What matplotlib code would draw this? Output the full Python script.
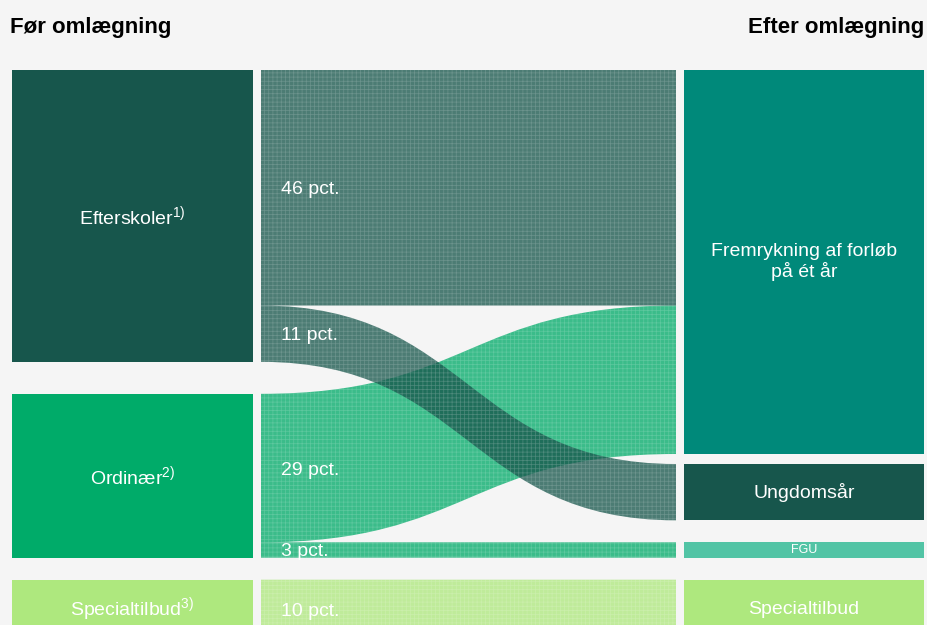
import matplotlib.pyplot as plt
from matplotlib.path import Path
from matplotlib.patches import PathPatch, Rectangle

plt.rcParams['font.family'] = ['Liberation Sans', 'DejaVu Sans']
plt.rcParams['mathtext.default'] = 'regular'
plt.rcParams['hatch.linewidth'] = 0.5

# data
left_names = ['Efterskoler$^{1)}$', 'Ordinær$^{2)}$', 'Specialtilbud$^{3)}$']
left_colors = ['#17564c', '#00ab69', '#aee87e']
right_names = ['Fremrykning af forløb\npå ét år', 'Ungdomsår', 'FGU', 'Specialtilbud']
right_colors = ['#00897a', '#17564c', '#52c4a5', '#aee87e']
flow_source = [0, 0, 1, 1, 2]
flow_target = [0, 1, 0, 2, 3]
flow_value = [46, 11, 29, 3, 10]
flow_labels = ['46 pct.', '11 pct.', '29 pct.', '3 pct.', '10 pct.']

# layout (pixel units)
W, H = 927, 625
scale = 5.12
top = 70
left_gaps = [32, 22]
right_gaps = [10, 22, 22]
lx0, lx1 = 12, 253
fx0, fx1 = 261, 676
rx0, rx1 = 684, 924
bg = '#f5f5f5'


def stack(values, gaps):
    tops = []
    y = top
    for i, v in enumerate(values):
        tops.append(y)
        y += v * scale
        if i < len(gaps):
            y += gaps[i]
    return tops


left_tot = [sum(v for v, s in zip(flow_value, flow_source) if s == i) for i in range(len(left_names))]
right_tot = [sum(v for v, t in zip(flow_value, flow_target) if t == i) for i in range(len(right_names))]
left_top = stack(left_tot, left_gaps)
right_top = stack(right_tot, right_gaps)


def label_y(y0, h):
    # boxes that run off the bottom edge get their label lower in the visible part
    if y0 + h > H:
        return (y0 + H) / 2 + 7
    return y0 + h / 2


def main():
    fig = plt.figure(figsize=(9.27, 6.25), dpi=100, facecolor=bg)
    ax = fig.add_axes([0, 0, 1, 1])
    ax.set_xlim(0, W)
    ax.set_ylim(H, 0)
    ax.axis('off')
    ax.set_facecolor(bg)

    # nodes
    for i, name in enumerate(left_names):
        h = left_tot[i] * scale
        ax.add_patch(Rectangle((lx0, left_top[i]), lx1 - lx0, h, color=left_colors[i], lw=0))
        ax.text((lx0 + lx1) / 2, label_y(left_top[i], h), name,
                color='white', fontsize=14, ha='center', va='center')
    for i, name in enumerate(right_names):
        h = right_tot[i] * scale
        ax.add_patch(Rectangle((rx0, right_top[i]), rx1 - rx0, h, color=right_colors[i], lw=0))
        ax.text((rx0 + rx1) / 2, label_y(right_top[i], h), name,
                color='white', fontsize=9 if name == 'FGU' else 14, ha='center', va='center',
                linespacing=1.15)

    # flow positions
    lpos = list(left_top)
    rpos = list(right_top)
    geo = []
    for s, t, v in zip(flow_source, flow_target, flow_value):
        h = v * scale
        geo.append((lpos[s], rpos[t], h))
        lpos[s] += h
        rpos[t] += h

    xm = (fx0 + fx1) / 2
    for k in reversed(range(len(flow_value))):
        y0, y1, h = geo[k]
        verts = [(fx0, y0), (xm, y0), (xm, y1), (fx1, y1),
                 (fx1, y1 + h), (xm, y1 + h), (xm, y0 + h), (fx0, y0 + h), (fx0, y0)]
        codes = [Path.MOVETO, Path.CURVE4, Path.CURVE4, Path.CURVE4,
                 Path.LINETO, Path.CURVE4, Path.CURVE4, Path.CURVE4, Path.CLOSEPOLY]
        col = left_colors[flow_source[k]]
        ax.add_patch(PathPatch(Path(verts, codes), facecolor=col, alpha=0.76, lw=0))
        ax.add_patch(PathPatch(Path(verts, codes), facecolor='none',
                               edgecolor=(1, 1, 1, 0.18), hatch='++++', lw=0))
        ax.text(fx0 + 20, label_y(y0, h) + 2, flow_labels[k],
                color='white', fontsize=14, ha='left', va='center')

    ax.text(10, 27, 'Før omlægning', fontsize=16, fontweight='bold', ha='left', va='center')
    ax.text(924, 27, 'Efter omlægning', fontsize=16, fontweight='bold', ha='right', va='center')

    plt.savefig('out.png', dpi=100, facecolor=bg)


if __name__ == '__main__':
    main()
